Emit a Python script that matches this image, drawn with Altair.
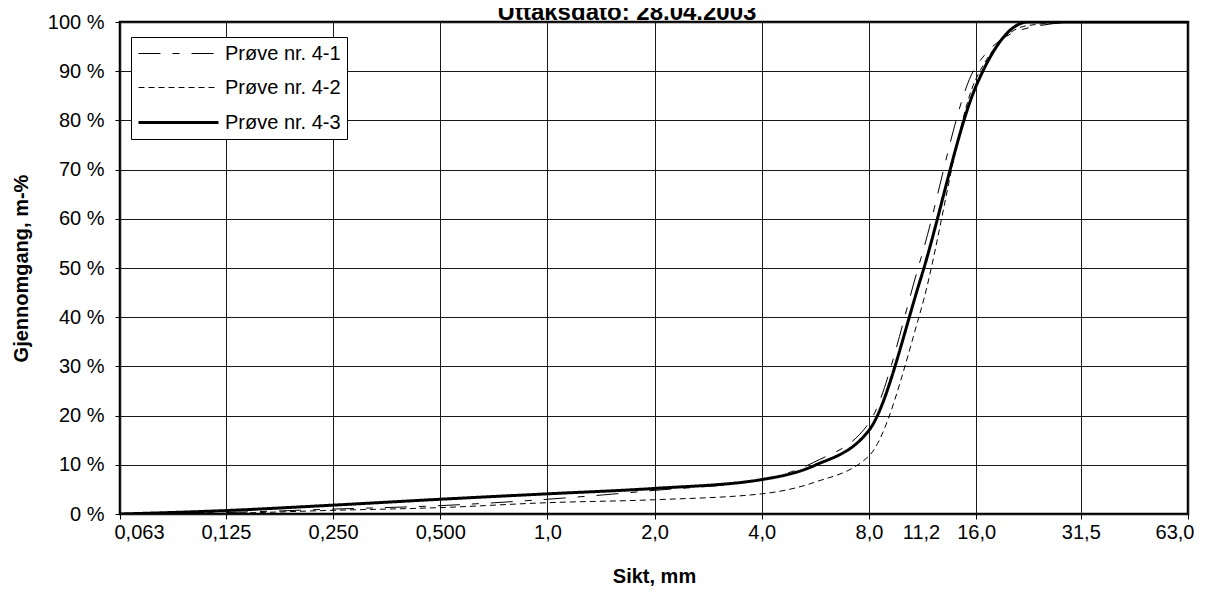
import altair as alt
import pandas as pd

# ---- data ----
sieve = [0.063, 0.125, 0.25, 0.5, 1.0, 2.0, 4.0, 5.6, 8.0, 11.2, 16.0, 22.4, 31.5, 63.0]
p41 = [0, 0.3, 1.0, 1.7, 3.0, 4.8, 7.0, 10.5, 18.5, 52.0, 91.0, 98.8, 100, 100]
p42 = [0, 0.15, 0.75, 1.3, 2.3, 2.9, 4.1, 6.4, 11.8, 41.5, 88.5, 99.3, 100, 100]
p43 = [0, 0.7, 1.8, 3.0, 4.1, 5.2, 7.0, 9.8, 17.0, 48.0, 87.0, 100, 100, 100]
series = ["Prøve nr. 4-1", "Prøve nr. 4-2", "Prøve nr. 4-3"]
x_ticks = [0.063, 0.125, 0.25, 0.5, 1.0, 2.0, 4.0, 8.0, 11.2, 16.0, 31.5, 63.0]
y_ticks = [0, 10, 20, 30, 40, 50, 60, 70, 80, 90, 100]
title_text = "Uttaksdato: 28.04.2003"
x_title = "Sikt, mm"
y_title = "Gjennomgang, m-%"

rows = []
for name, vals in zip(series, [p41, p42, p43]):
    for s, v in zip(sieve, vals):
        rows.append({"sikt": s, "pct": v, "serie": name})
df = pd.DataFrame(rows)

FONT = "Liberation Sans"

legend = alt.Legend(
    orient="none", legendX=11, legendY=15, title=None,
    symbolType="M-1,0L7,0", symbolSize=400, symbolStrokeColor="black",
    symbolFillColor="transparent",
    labelFont=FONT, labelFontSize=20, labelColor="black", labelOffset=65,
    strokeColor="black", fillColor="white", padding=6, rowPadding=13,
    cornerRadius=0,
)

x_enc = alt.X(
    "sikt:Q",
    scale=alt.Scale(type="log", domain=[0.063, 63], nice=False),
    axis=alt.Axis(
        values=x_ticks,
        labelExpr="datum.value < 1 ? replace(format(datum.value, '.3f'), '.', ',') : replace(format(datum.value, '.1f'), '.', ',')",
        title=x_title,
        tickSize=5,
        labelPadding=3,
        titlePadding=24,
        gridOpacity={"condition": {"test": "datum.value == 11.2", "value": 0}, "value": 1},
        tickOpacity={"condition": {"test": "datum.value == 11.2", "value": 0}, "value": 1},
        labelOverlap=False,
        labelFlush=True,
        labelFlushOffset=6,
    ),
)
y_enc = alt.Y(
    "pct:Q",
    scale=alt.Scale(domain=[0, 100], nice=False),
    axis=alt.Axis(
        values=y_ticks,
        labelExpr="datum.value + ' %'",
        title=y_title,
        tickSize=5,
        labelPadding=11,
        titlePadding=16,
    ),
)

lines = alt.Chart(df).mark_line(color="black", interpolate="monotone", clip=True).encode(
    x=x_enc,
    y=y_enc,
    strokeDash=alt.StrokeDash(
        "serie:N",
        scale=alt.Scale(domain=series, range=[[22, 12, 7, 12], [6, 4], [1, 0]]),
        legend=legend,
    ),
    strokeWidth=alt.StrokeWidth(
        "serie:N",
        scale=alt.Scale(type="ordinal", domain=series, range=[1, 1, 3]),
        legend=legend,
    ),
    order=alt.Order("sikt:Q"),
)

title = alt.Chart(pd.DataFrame({"t": [title_text]})).mark_text(
    font=FONT, fontSize=24, fontWeight="bold", color="black",
    align="center", baseline="alphabetic",
).encode(text="t:N", x=alt.value(507), y=alt.value(-2))

chart = alt.layer(lines, title).properties(
    width=1068, height=492,
    autosize=alt.AutoSizeParams(type="none"),
    padding={"left": 112, "top": 14, "right": 10, "bottom": 72},
).configure_view(
    stroke="black", strokeWidth=2.5,
).configure_axis(
    domain=False, grid=True, gridColor="#1a1a1a", gridWidth=1,
    tickColor="black", tickWidth=1,
    labelFont=FONT, labelFontSize=20, labelColor="black",
    titleFont=FONT, titleFontSize=20, titleFontWeight="bold", titleColor="black",
)

chart.save("out.html", embed_options={"renderer": "svg", "actions": False})
